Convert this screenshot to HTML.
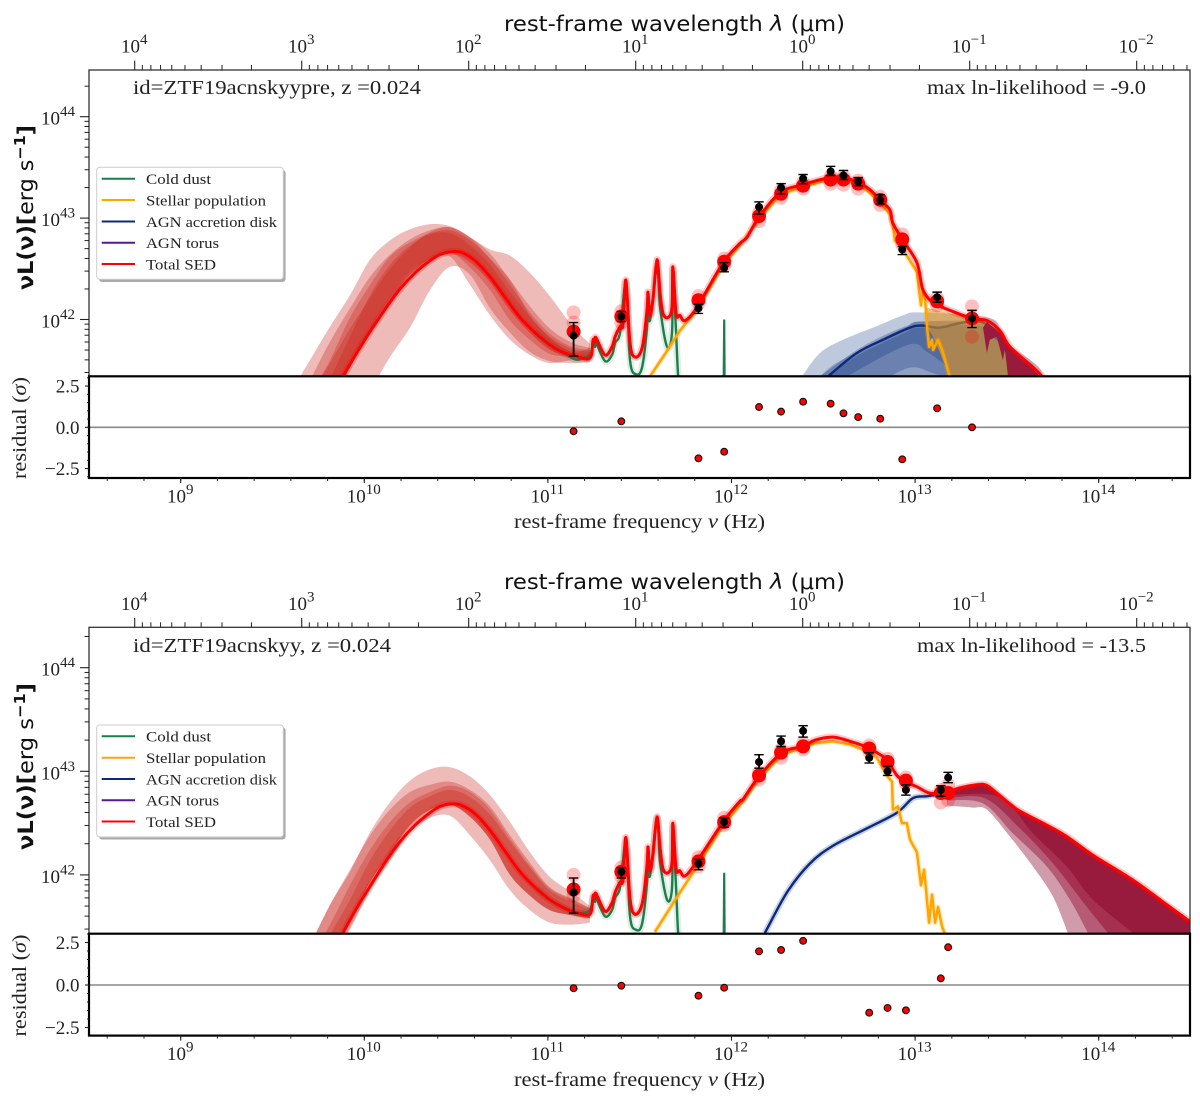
<!DOCTYPE html>
<html lang="en">
<head>
<meta charset="utf-8">
<title>SED fits for ZTF19acnskyypre and ZTF19acnskyy</title>
<style>
html,body{margin:0;padding:0;background:#fff;width:1200px;height:1110px;overflow:hidden}
svg{display:block}
.serif{font-family:"Liberation Serif",serif;fill:#222}
.sans{font-family:"DejaVu Sans",sans-serif;fill:#111}
</style>
</head>
<body>
<svg id="figure" xmlns="http://www.w3.org/2000/svg" width="1200" height="1110" viewBox="0 0 1200 1110">
  <rect x="0" y="0" width="1200" height="1110" fill="#fff"/>
  <g id="panel-1"></g>
  <g id="panel-2"></g>

  <text class="sans" x="674.5" y="31" font-size="21" text-anchor="middle" textLength="341" lengthAdjust="spacingAndGlyphs">rest-frame wavelength <tspan font-style="italic">λ</tspan> (μm)</text>
  <text class="serif" x="133" y="94" font-size="20" textLength="288" lengthAdjust="spacingAndGlyphs">id=ZTF19acnskyypre, z =0.024</text>
  <text class="serif" x="1146" y="94" font-size="20" text-anchor="end" textLength="219" lengthAdjust="spacingAndGlyphs">max ln-likelihood = -9.0</text>
  <text class="sans" transform="translate(33,207.5) rotate(-90)" font-size="21" text-anchor="middle" textLength="165" lengthAdjust="spacingAndGlyphs"><tspan font-weight="bold">νL(ν)[</tspan><tspan>erg s</tspan><tspan dy="-8" font-size="15" font-weight="bold">−1</tspan><tspan dy="8" font-weight="bold">]</tspan></text>
  <text class="serif" transform="translate(26,428) rotate(-90)" font-size="20" text-anchor="middle" textLength="102" lengthAdjust="spacingAndGlyphs">residual (<tspan font-style="italic">σ</tspan>)</text>
  <text class="serif" x="639.5" y="528" font-size="20" text-anchor="middle" textLength="251" lengthAdjust="spacingAndGlyphs">rest-frame frequency <tspan font-style="italic">ν</tspan> (Hz)</text>

  <g>
    <rect x="99" y="170" width="186.6" height="112" rx="3" fill="#aaa"/>
    <rect x="96.7" y="167.3" width="186.6" height="112" rx="3" fill="#fff" stroke="#ccc" stroke-width="1"/>
    <g><line x1="101.7" x2="135" y1="178.7" y2="178.7" stroke="#1a7f4b" stroke-width="2"/><text class="serif" x="146" y="184" font-size="15" textLength="65" lengthAdjust="spacingAndGlyphs">Cold dust</text></g>
    <g><line x1="101.7" x2="135" y1="200" y2="200" stroke="#ffa500" stroke-width="2"/><text class="serif" x="146" y="205.5" font-size="15" textLength="120" lengthAdjust="spacingAndGlyphs">Stellar population</text></g>
    <g><line x1="101.7" x2="135" y1="221.5" y2="221.5" stroke="#0b2a7c" stroke-width="2"/><text class="serif" x="146" y="227" font-size="15" textLength="131" lengthAdjust="spacingAndGlyphs">AGN accretion disk</text></g>
    <g><line x1="101.7" x2="135" y1="242.7" y2="242.7" stroke="#551a8b" stroke-width="2"/><text class="serif" x="146" y="248" font-size="15" textLength="73" lengthAdjust="spacingAndGlyphs">AGN torus</text></g>
    <g><line x1="101.7" x2="135" y1="264" y2="264" stroke="#ff0000" stroke-width="2"/><text class="serif" x="146" y="269.5" font-size="15" textLength="70" lengthAdjust="spacingAndGlyphs">Total SED</text></g>
  </g>

  <text class="sans" x="674.5" y="589" font-size="21" text-anchor="middle" textLength="341" lengthAdjust="spacingAndGlyphs">rest-frame wavelength <tspan font-style="italic">λ</tspan> (μm)</text>
  <text class="serif" x="133" y="652" font-size="20" textLength="258" lengthAdjust="spacingAndGlyphs">id=ZTF19acnskyy, z =0.024</text>
  <text class="serif" x="1146" y="652" font-size="20" text-anchor="end" textLength="229" lengthAdjust="spacingAndGlyphs">max ln-likelihood = -13.5</text>
  <text class="sans" transform="translate(33,766.5) rotate(-90)" font-size="21" text-anchor="middle" textLength="167" lengthAdjust="spacingAndGlyphs"><tspan font-weight="bold">νL(ν)[</tspan><tspan>erg s</tspan><tspan dy="-8" font-size="15" font-weight="bold">−1</tspan><tspan dy="8" font-weight="bold">]</tspan></text>
  <text class="serif" transform="translate(26,985.5) rotate(-90)" font-size="20" text-anchor="middle" textLength="102" lengthAdjust="spacingAndGlyphs">residual (<tspan font-style="italic">σ</tspan>)</text>
  <text class="serif" x="639.5" y="1086" font-size="20" text-anchor="middle" textLength="251" lengthAdjust="spacingAndGlyphs">rest-frame frequency <tspan font-style="italic">ν</tspan> (Hz)</text>

  <g>
    <rect x="99" y="727.5" width="186.6" height="112" rx="3" fill="#aaa"/>
    <rect x="96.7" y="725" width="186.6" height="112" rx="3" fill="#fff" stroke="#ccc" stroke-width="1"/>
    <g><line x1="101.7" x2="135" y1="736.3" y2="736.3" stroke="#1a7f4b" stroke-width="2"/><text class="serif" x="146" y="741.5" font-size="15" textLength="65" lengthAdjust="spacingAndGlyphs">Cold dust</text></g>
    <g><line x1="101.7" x2="135" y1="757.7" y2="757.7" stroke="#ffa500" stroke-width="2"/><text class="serif" x="146" y="763" font-size="15" textLength="120" lengthAdjust="spacingAndGlyphs">Stellar population</text></g>
    <g><line x1="101.7" x2="135" y1="779" y2="779" stroke="#0b2a7c" stroke-width="2"/><text class="serif" x="146" y="784.5" font-size="15" textLength="131" lengthAdjust="spacingAndGlyphs">AGN accretion disk</text></g>
    <g><line x1="101.7" x2="135" y1="800.3" y2="800.3" stroke="#551a8b" stroke-width="2"/><text class="serif" x="146" y="805.5" font-size="15" textLength="73" lengthAdjust="spacingAndGlyphs">AGN torus</text></g>
    <g><line x1="101.7" x2="135" y1="821.5" y2="821.5" stroke="#ff0000" stroke-width="2"/><text class="serif" x="146" y="827" font-size="15" textLength="70" lengthAdjust="spacingAndGlyphs">Total SED</text></g>
  </g>
</svg>

<script>
// ---- axis tick values ----
const freqTickExps = [9, 10, 11, 12, 13, 14];
const wavelengthTickExps = [4, 3, 2, 1, 0, -1, -2];
const lumTickExps = [42, 43, 44];
const residualTicks = [-2.5, 0, 2.5];
const residualTickLabels = ['−2.5', '0.0', '2.5'];

// ---- photometry (log10 Hz, log10 erg/s) : top panel ----
const obs1Nu = [11.14, 11.40, 11.82, 11.96, 12.15, 12.27, 12.39, 12.54, 12.61, 12.69, 12.81, 12.93, 13.12, 13.31];
const obs1L = [41.84, 42.03, 42.11, 42.51, 43.11, 43.30, 43.39, 43.46, 43.42, 43.36, 43.18, 42.69, 42.22, 42.01];
const obs1Hi = [41.97, 42.08, 42.15, 42.56, 43.16, 43.34, 43.43, 43.51, 43.47, 43.40, 43.23, 42.72, 42.27, 42.09];
const obs1Lo = [41.64, 41.98, 42.06, 42.47, 43.04, 43.24, 43.34, 43.42, 43.38, 43.32, 43.14, 42.64, 42.17, 41.92];
const model1L = [41.88, 42.03, 42.19, 42.57, 43.02, 43.24, 43.32, 43.38, 43.38, 43.34, 43.18, 42.79, 42.18, 42.01];
const model1Hi = [42.07, 42.08, 42.23, 42.60, 43.05, 43.27, 43.35, 43.41, 43.41, 43.37, 43.21, 42.84, 42.21, 42.13];
const model1Lo = [41.97, 41.97, 42.16, 42.53, 42.97, 43.20, 43.29, 43.34, 43.33, 43.29, 43.13, 42.74, 42.14, 41.83];
const resid1 = [-0.24, 0.36, -1.88, -1.48, 1.23, 0.95, 1.55, 1.43, 0.85, 0.62, 0.52, -1.94, 1.15, 0];

// ---- photometry : bottom panel ----
const obs2Nu = [11.14, 11.40, 11.82, 11.96, 12.15, 12.27, 12.39, 12.75, 12.85, 12.95, 13.14, 13.18];
const obs2L = [41.83, 42.03, 42.11, 42.51, 43.09, 43.29, 43.39, 43.13, 43.00, 42.82, 42.82, 42.94];
const obs2Hi = [41.97, 42.07, 42.15, 42.55, 43.16, 43.34, 43.44, 43.18, 43.05, 42.87, 42.86, 42.99];
const obs2Lo = [41.63, 41.97, 42.05, 42.46, 43.03, 43.24, 43.33, 43.08, 42.96, 42.77, 42.76, 42.89];
const model2L = [41.86, 42.03, 42.13, 42.51, 42.96, 43.18, 43.24, 43.22, 43.09, 42.91, 42.79, 42.79];
const model2Hi = [42.00, 42.07, 42.17, 42.55, 42.99, 43.21, 43.27, 43.25, 43.12, 42.94, 42.82, 42.87];
const model2Lo = [41.80, 41.98, 42.08, 42.48, 42.92, 43.13, 43.21, 43.19, 43.06, 42.88, 42.70, 42.72];
const resid2 = [-0.19, -0.04, -0.63, -0.16, 1.98, 2.06, 2.6, -1.63, -1.35, -1.49, 0.39, 2.22];

// ---- total SED ----
const total1Nu = [9.884,9.949,10.031,10.113,10.194,10.276,10.358,10.412,10.478,10.532,10.603,10.685,10.766,10.848,10.93,11.011,11.077,11.148,11.229,11.246,11.256,11.262,11.311,11.349,11.366,11.393,11.409,11.425,11.447,11.474,11.513,11.54,11.545,11.556,11.572,11.594,11.611,11.627,11.654,11.676,11.681,11.698,11.719,11.747,11.812,11.954,12.046,12.084,12.15,12.264,12.389,12.536,12.607,12.694,12.754,12.808,12.863,12.879,12.934,13.01,13.043,13.098,13.125,13.19,13.31,13.391,13.462,13.517,13.642,13.697];
const total1L = [41.44,41.64,41.88,42.10,42.30,42.46,42.58,42.64,42.67,42.66,42.58,42.42,42.22,42.02,41.87,41.75,41.68,41.64,41.62,41.80,41.78,41.82,41.65,41.73,41.83,41.93,41.95,42.39,41.77,41.63,41.72,42.09,42.27,42.04,42.19,42.59,42.26,42.06,42.02,42.12,42.52,42.06,42.04,41.99,42.12,42.56,42.75,42.81,43.01,43.25,43.33,43.40,43.40,43.35,43.28,43.18,43.08,42.95,42.78,42.56,42.29,42.16,42.14,42.09,42.01,41.99,41.89,41.73,41.53,41.43];
const total2Nu = [9.884,9.949,10.031,10.113,10.194,10.276,10.358,10.412,10.478,10.532,10.603,10.685,10.766,10.848,10.93,11.011,11.077,11.148,11.229,11.246,11.256,11.262,11.311,11.349,11.366,11.393,11.409,11.425,11.447,11.474,11.513,11.54,11.545,11.556,11.572,11.594,11.611,11.627,11.654,11.676,11.681,11.698,11.719,11.747,11.812,11.954,12.046,12.063,12.15,12.275,12.389,12.454,12.552,12.645,12.743,12.792,12.846,12.901,12.945,13.01,13.081,13.174,13.244,13.337,13.38,13.424,13.533,13.598,13.718,13.827,13.969,14.187,14.372,14.497];
const total2L = [41.44,41.65,41.89,42.12,42.32,42.48,42.60,42.66,42.685,42.67,42.59,42.43,42.23,42.03,41.88,41.76,41.69,41.64,41.62,41.80,41.78,41.82,41.65,41.73,41.83,41.93,41.95,42.36,41.77,41.62,41.72,42.09,42.27,42.04,42.19,42.56,42.26,42.06,42.02,42.12,42.50,42.06,42.04,41.99,42.13,42.51,42.71,42.73,42.95,43.18,43.24,43.30,43.33,43.29,43.23,43.18,43.11,42.96,42.90,42.85,42.79,42.80,42.84,42.87,42.87,42.82,42.66,42.59,42.48,42.37,42.19,41.95,41.71,41.55];

// ---- cold dust ----
const dustLineNu = [10.93,11.011,11.077,11.142,11.18,11.229,11.246,11.256,11.262,11.311,11.349,11.366,11.393,11.425,11.447,11.48,11.513,11.54,11.545,11.556,11.594,11.611,11.649,11.676,11.681,11.698,11.709,11.72];
const dust1L = [41.87,41.75,41.68,41.61,41.61,41.65,41.77,41.73,41.77,41.59,41.65,41.77,41.87,42.36,41.60,41.46,41.53,41.93,42.19,41.99,42.52,42.12,41.73,41.87,42.49,41.87,41.45,41.30];
const dust2L = [41.88,41.76,41.69,41.63,41.63,41.66,41.78,41.74,41.78,41.60,41.66,41.78,41.88,42.31,41.60,41.47,41.53,41.93,42.19,41.99,42.55,42.12,41.76,41.87,42.46,41.87,41.45,41.30];
const dustSpikeNu = [11.957, 11.96, 11.963];
const dustSpike1L = [41.3, 42.0, 41.3];
const dustSpike2L = [41.3, 42.02, 41.3];

// ---- cold dust uncertainty bands on a shared frequency grid ----
const bandGridNu = [9.595,9.704,9.813,9.922,10.031,10.14,10.249,10.358,10.467,10.576,10.685,10.794,10.902,11.011,11.131,11.229];
const band1AUp = [41.27,41.60,41.93,42.24,42.59,42.78,42.89,42.94,42.92,42.81,42.60,42.39,42.04,41.82,41.68,41.72];
const band1ALo = [40.40,40.80,41.15,41.52,41.90,42.19,42.44,42.60,42.62,42.34,42.04,41.80,41.65,41.57,41.60,41.59];
const band1BUp = [40.93,41.25,41.57,41.91,42.21,42.50,42.71,42.86,42.91,42.81,42.69,42.63,42.46,42.23,41.94,41.76];
const band1BLo = [39.90,40.30,40.70,41.05,41.30,41.63,41.92,42.29,42.52,42.44,42.11,41.87,41.68,41.59,41.57,41.58];
const band1CUp = [41.02,41.40,41.78,42.11,42.42,42.64,42.79,42.88,42.91,42.81,42.65,42.39,42.13,41.91,41.77,41.72];
const band1CLo = [40.67,40.97,41.25,41.55,41.88,42.18,42.44,42.57,42.66,42.51,42.29,41.99,41.80,41.66,41.63,41.60];
const band1DUp = [40.90,41.25,41.60,42.02,42.34,42.62,42.76,42.85,42.88,42.78,42.60,42.34,42.07,41.86,41.73,41.70];
const band1DLo = [40.67,40.97,41.25,41.55,41.90,42.22,42.47,42.60,42.66,42.56,42.37,42.09,41.87,41.70,41.63,41.60];
const band1EUp = [40.78,41.10,41.42,41.83,42.24,42.54,42.73,42.84,42.85,42.73,42.54,42.27,42.03,41.83,41.71,41.68];
const band1ELo = [40.67,40.97,41.25,41.55,41.88,42.19,42.44,42.58,42.66,42.61,42.41,42.14,41.90,41.73,41.63,41.60];

const band2AUp = [40.93,41.32,41.71,42.03,42.41,42.70,42.91,43.02,43.04,42.95,42.77,42.51,42.22,41.98,41.83,41.70];
const band2ALo = [40.60,40.89,41.13,41.47,41.85,42.14,42.41,42.55,42.57,42.38,42.14,41.85,41.66,41.54,41.52,41.54];
const band2BUp = [40.93,41.32,41.71,42.05,42.38,42.63,42.80,42.87,42.90,42.82,42.66,42.38,42.12,41.88,41.77,41.68];
const band2BLo = [40.65,40.94,41.23,41.56,41.93,42.21,42.48,42.63,42.68,42.56,42.34,42.00,41.80,41.66,41.61,41.58];
const band2CUp = [40.80,41.18,41.52,41.90,42.24,42.51,42.70,42.80,42.86,42.80,42.63,42.35,42.09,41.87,41.76,41.68];
const band2CLo = [40.65,40.94,41.23,41.56,41.93,42.21,42.48,42.63,42.68,42.56,42.34,42.00,41.80,41.66,41.61,41.58];
const band2DUp = [40.70,41.08,41.42,41.76,42.14,42.43,42.65,42.76,42.82,42.75,42.58,42.32,42.07,41.85,41.74,41.66];
const band2DLo = [40.65,40.94,41.23,41.56,41.93,42.21,42.48,42.63,42.68,42.56,42.34,42.00,41.80,41.66,41.61,41.58];

// ---- stellar population ----
const stellar1Nu = [11.556,11.638,11.719,11.812,11.954,12.063,12.15,12.264,12.389,12.536,12.607,12.694,12.754,12.808,12.863,12.879,12.89,12.934,13.01,13.021,13.032,13.043,13.054,13.065,13.076,13.092,13.098,13.125,13.147,13.174,13.19];
const stellar1L = [41.44,41.66,41.89,42.10,42.54,42.77,42.99,43.23,43.31,43.38,43.38,43.33,43.25,43.15,43.04,42.92,42.78,42.69,42.47,42.29,42.14,42.29,42.22,41.93,41.73,41.80,41.70,41.80,41.70,41.53,41.42];
const stellar2Nu = [11.583,11.719,11.812,11.954,12.063,12.15,12.275,12.389,12.454,12.552,12.645,12.743,12.792,12.846,12.874,12.879,12.907,12.928,12.955,12.972,13.01,13.032,13.049,13.076,13.092,13.109,13.125,13.147,13.163];
const stellar2L = [41.45,41.83,42.08,42.48,42.71,42.93,43.16,43.23,43.27,43.29,43.26,43.19,43.13,42.96,42.90,42.63,42.66,42.50,42.50,42.34,42.22,41.90,42.05,41.54,41.81,41.54,41.69,41.50,41.43];

// ---- AGN accretion disk ----
const agn1Nu = [12.526,12.683,12.825,12.972,13.043,13.135,13.26,13.37,13.479,13.571,13.67];
const agn1L = [41.44,41.67,41.80,41.92,41.94,41.92,41.97,41.97,41.80,41.62,41.44];
const agn2Nu = [12.182,12.302,12.427,12.552,12.738,12.901,12.988,13.065,13.174,13.244,13.337,13.38,13.424,13.533];
const agn2L = [41.44,41.83,42.11,42.28,42.45,42.60,42.74,42.76,42.79,42.83,42.86,42.86,42.81,42.65];

// ---- top panel AGN / stellar / hot-dust envelopes (outlines) ----
const agnBandLightNu = [12.384,12.482,12.607,12.77,12.934,13.027,13.391,13.462,13.517,13.68,13.18,12.536];
const agnBandLightL = [41.44,41.67,41.80,41.92,42.04,42.07,42.02,41.92,41.75,41.44,41.3,41.3];
const agnBandMidNu = [12.482,12.553,12.683,12.825,12.956,13.027,13.391,13.462,13.625,13.18,12.6];
const agnBandMidL = [41.44,41.55,41.68,41.82,41.93,41.98,41.98,41.85,41.44,41.3,41.3];
const agnBandThirdNu = [12.52,12.683,12.825,12.956,13.027,13.391,13.517,13.598,13.18,12.994,12.863];
const agnBandThirdL = [41.44,41.64,41.77,41.88,41.92,41.92,41.65,41.44,41.44,41.53,41.44];
const agnBandDarkNu = [12.482,12.683,12.825,12.972,13.043,13.391,13.517,13.625,13.217,13.163,13.065,12.96,12.629];
const agnBandDarkL = [41.44,41.70,41.84,41.95,41.98,41.95,41.75,41.44,41.44,41.55,41.68,41.75,41.44];
const stellarBandNu = [13.054,13.19,13.31,13.391,13.424,13.5,13.506,13.19,13.098,13.065];
const stellarBandL = [42.12,42.06,42.01,41.97,41.83,41.70,41.44,41.44,41.83,41.93];
const hotBandNu = [13.391,13.462,13.517,13.642,13.67,13.506,13.489,13.478,13.445,13.407,13.391,13.37];
const hotBandL = [41.975,41.87,41.72,41.52,41.44,41.44,41.70,41.60,41.83,41.80,41.67,41.92];

// ---- bottom panel high-frequency envelope lower edges ----
const envStartNu = 13.174;
const envLightNu = [13.174,13.244,13.315,13.391,13.517,13.642,13.751,13.832];
const envLightL = [42.67,42.66,42.65,42.63,42.37,42.08,41.79,41.44];
const envMidNu = [13.174,13.37,13.533,13.718,13.843,13.941];
const envMidL = [42.72,42.69,42.40,42.08,41.76,41.44];
const envThirdNu = [13.174,13.38,13.57,13.751,13.936,14.05];
const envThirdL = [42.74,42.74,42.45,42.11,41.69,41.44];
const envDarkNu = [13.174,13.462,13.642,13.827,13.969,14.187];
const envDarkL = [42.77,42.75,42.40,42.08,41.76,41.44];

// ---- x axis functions ----
const xScale = nu => 364.3 + (nu - 10) * 183.6;
const wlScale = e => 134.7 + (4 - e) * 167;
const X_LEFT = 89, X_RIGHT = 1190;

const NS = 'http://www.w3.org/2000/svg';
function mk(parent, tag, attrs, name, text) {
  const el = document.createElementNS(NS, tag);
  for (const k in attrs) el.setAttribute(k, attrs[k]);
  
  
  if (text !== undefined) el.textContent = text;
  parent.appendChild(el);
  return el;
}
function powerLabel(parent, x, y, anchor, exp, name) {
  const t = mk(parent, 'text', {x: x, y: y, 'text-anchor': anchor, 'font-size': 19, 'class': 'serif'}, name, '10');
  const s = document.createElementNS(NS, 'tspan');
  s.setAttribute('dy', '-8.5');
  s.setAttribute('font-size', '15');
  s.textContent = String(exp).replace('-', '−');
  t.appendChild(s);
}
// Catmull-Rom curve through the given screen points
function smoothPath(pts) {
  let d = 'M' + pts[0][0].toFixed(1) + ' ' + pts[0][1].toFixed(1);
  for (let i = 0; i < pts.length - 1; i++) {
    const p0 = pts[Math.max(i - 1, 0)], p1 = pts[i], p2 = pts[i + 1], p3 = pts[Math.min(i + 2, pts.length - 1)];
    const c1x = p1[0] + (p2[0] - p0[0]) / 6, c1y = p1[1] + (p2[1] - p0[1]) / 6;
    const c2x = p2[0] - (p3[0] - p1[0]) / 6, c2y = p2[1] - (p3[1] - p1[1]) / 6;
    d += 'C' + c1x.toFixed(1) + ' ' + c1y.toFixed(1) + ' ' + c2x.toFixed(1) + ' ' + c2y.toFixed(1) + ' ' + p2[0].toFixed(1) + ' ' + p2[1].toFixed(1);
  }
  return d;
}

function drawPanel(root, clipId, g, d) {
  const yL = L => g.y44 + (44 - L) * g.dex;
  const yR = r => g.res0 - r * g.resUnit;
  const toPts = (nu, L) => nu.map((n, i) => [xScale(n), yL(L[i])]);
  const lineD = (nu, L) => toPts(nu, L).map((p, i) => (i ? 'L' : 'M') + p[0].toFixed(1) + ' ' + p[1].toFixed(1)).join('');
  const curveD = (nu, L) => smoothPath(toPts(nu, L));
  const polyD = (nu, L) => lineD(nu, L) + 'Z';
  const curvePolyD = (nu, L) => curveD(nu, L) + 'Z';
  const bandD = (nu, up, lo) => curveD(nu, up) + curveD(nu.slice().reverse(), lo.slice().reverse()).replace('M', 'L') + 'Z';

  const defs = mk(root, 'defs', {}, 'panel-clip-defs');
  const cp = mk(defs, 'clipPath', {id: clipId}, 'panel-clip');
  mk(cp, 'rect', {x: X_LEFT, y: g.top, width: X_RIGHT - X_LEFT, height: g.bottom - g.top}, 'panel-clip-rect');

  const plot = mk(root, 'g', {'clip-path': 'url(#' + clipId + ')'}, 'sed-plot-area');

  // cold dust bands
  d.dustBands.forEach(b => {
    mk(plot, 'path', {d: bandD(bandGridNu, b[0], b[1]), fill: 'rgb(200,30,20)', 'fill-opacity': 0.3}, 'dust-uncertainty-band');
  });
  // envelopes under the lines
  if (d.agnPolys) d.agnPolys.forEach(b => {
    mk(plot, 'path', {d: curvePolyD(b[0], b[1]), fill: 'rgb(0,40,120)', 'fill-opacity': 0.25}, 'agn-disk-band');
  });
  if (d.agnHalo) mk(plot, 'path', {d: curveD(d.agnNu, d.agnL), fill: 'none', stroke: 'rgb(0,40,120)', 'stroke-opacity': 0.22, 'stroke-width': 6}, 'agn-disk-halo');
  mk(plot, 'path', {d: curveD(d.agnNu, d.agnL), fill: 'none', stroke: '#0b2a7c', 'stroke-width': 2.4, 'stroke-linejoin': 'round'}, 'agn-disk-line');
  if (d.stellarPoly) mk(plot, 'path', {d: polyD(d.stellarPoly[0], d.stellarPoly[1]), fill: 'rgb(230,150,30)', 'fill-opacity': 0.6}, 'stellar-band');
  if (d.hotPoly) mk(plot, 'path', {d: polyD(d.hotPoly[0], d.hotPoly[1]), fill: '#981a3c'}, 'total-sed-dark-band');
  if (d.envelopes) {
    const iStart = d.totalNu.findIndex(n => n >= envStartNu);
    const topNu = d.totalNu.slice(iStart), topL = d.totalL.slice(iStart);
    d.envelopes.forEach(e => {
      const top = curveD(topNu, topL);
      const corner = 'L' + xScale(14.6).toFixed(1) + ' ' + yL(41.3).toFixed(1);
      const lower = curveD(e[0].slice().reverse(), e[1].slice().reverse()).replace('M', 'L');
      mk(plot, 'path', {d: top + corner + lower + 'Z', fill: e[2]}, 'total-sed-envelope');
    });
  }
  // cold dust lines
  mk(plot, 'path', {d: curveD(d.dustNu, d.dustL), fill: 'none', stroke: '#1a7f4b', 'stroke-opacity': 0.13, 'stroke-width': 7, 'stroke-linejoin': 'round'}, 'cold-dust-halo');
  mk(plot, 'path', {d: curveD(d.dustNu, d.dustL), fill: 'none', stroke: '#1a7f4b', 'stroke-width': 2.4, 'stroke-linejoin': 'round'}, 'cold-dust-line');
  mk(plot, 'path', {d: lineD(dustSpikeNu, d.spikeL), fill: 'none', stroke: '#1a7f4b', 'stroke-width': 2.2}, 'cold-dust-spike');
  // stellar
  mk(plot, 'path', {d: lineD(d.stellarNu, d.stellarL), fill: 'none', stroke: '#ffa500', 'stroke-opacity': 0.25, 'stroke-width': 5, 'stroke-linejoin': 'round'}, 'stellar-halo');
  mk(plot, 'path', {d: lineD(d.stellarNu, d.stellarL), fill: 'none', stroke: '#ffa500', 'stroke-width': 2.5, 'stroke-linejoin': 'round'}, 'stellar-line');
  // total
  mk(plot, 'path', {d: curveD(d.totalNu, d.totalL), fill: 'none', stroke: '#ff0000', 'stroke-opacity': 0.22, 'stroke-width': 7, 'stroke-linejoin': 'round'}, 'total-sed-halo');
  mk(plot, 'path', {d: curveD(d.totalNu, d.totalL), fill: 'none', stroke: '#ff0000', 'stroke-width': 3, 'stroke-linejoin': 'round'}, 'total-sed-line');

  // model photometry markers
  d.obsNu.forEach((n, i) => {
    mk(plot, 'circle', {cx: xScale(n), cy: yL(d.modelHi[i]), r: 7, fill: '#ff0000', 'fill-opacity': 0.25}, 'model-point-upper');
    mk(plot, 'circle', {cx: xScale(n), cy: yL(d.modelLo[i]), r: 7, fill: '#ff0000', 'fill-opacity': 0.25}, 'model-point-lower');
  });
  d.obsNu.forEach((n, i) => {
    mk(plot, 'circle', {cx: xScale(n), cy: yL(d.modelL[i]), r: 7, fill: '#ff0000'}, 'model-point');
  });
  // observed photometry
  d.obsNu.forEach((n, i) => {
    const x = xScale(n);
    mk(plot, 'line', {x1: x, x2: x, y1: yL(d.obsHi[i]), y2: yL(d.obsLo[i]), stroke: '#000', 'stroke-width': 1.8}, 'error-bar');
    mk(plot, 'line', {x1: x - 4.7, x2: x + 4.7, y1: yL(d.obsHi[i]), y2: yL(d.obsHi[i]), stroke: '#000', 'stroke-width': 1.4}, 'error-cap-upper');
    mk(plot, 'line', {x1: x - 4.7, x2: x + 4.7, y1: yL(d.obsLo[i]), y2: yL(d.obsLo[i]), stroke: '#000', 'stroke-width': 1.4}, 'error-cap-lower');
    mk(plot, 'circle', {cx: x, cy: yL(d.obsL[i]), r: 4, fill: '#000'}, 'observed-point');
  });

  // main frame
  mk(root, 'rect', {x: X_LEFT, y: g.top, width: X_RIGHT - X_LEFT, height: g.bottom - g.top, fill: 'none', stroke: '#333', 'stroke-width': 1.3}, 'main-axes-frame');

  // top wavelength ticks
  const axis = mk(root, 'g', {}, 'axes-ticks');
  for (let e = -3; e <= 4; e++) {
    for (let m = 2; m <= 9; m++) {
      const x = wlScale(e + Math.log10(m));
      if (x < X_LEFT || x > X_RIGHT) continue;
      mk(axis, 'line', {x1: x, x2: x, y1: g.top, y2: g.top - 5, stroke: '#222', 'stroke-width': 1}, 'wavelength-minor-tick');
    }
  }
  wavelengthTickExps.forEach(e => {
    const x = wlScale(e);
    mk(axis, 'line', {x1: x, x2: x, y1: g.top, y2: g.top - 9.3, stroke: '#222', 'stroke-width': 1.1}, 'wavelength-major-tick');
    powerLabel(axis, x - 0.5, g.top - 17.5, 'middle', e, 'wavelength-tick-label');
  });
  // luminosity ticks
  for (let e = 41; e <= 44; e++) {
    for (let m = 2; m <= 9; m++) {
      const L = e + Math.log10(m);
      const y = yL(L);
      if (y < g.top || y > g.bottom) continue;
      mk(axis, 'line', {x1: X_LEFT, x2: X_LEFT - 4.5, y1: y, y2: y, stroke: '#222', 'stroke-width': 1}, 'luminosity-minor-tick');
    }
  }
  lumTickExps.forEach(e => {
    const y = yL(e);
    mk(axis, 'line', {x1: X_LEFT, x2: X_LEFT - 9, y1: y, y2: y, stroke: '#222', 'stroke-width': 1.1}, 'luminosity-major-tick');
    powerLabel(axis, 75, y + 8, 'end', e, 'luminosity-tick-label');
  });

  // residual panel
  const res = mk(root, 'g', {}, 'residual-panel');
  mk(res, 'line', {x1: X_LEFT, x2: X_RIGHT, y1: yR(0), y2: yR(0), stroke: '#888', 'stroke-width': 1.6}, 'residual-zero-line');
  d.obsNu.forEach((n, i) => {
    mk(res, 'circle', {cx: xScale(n), cy: yR(d.resid[i]), r: 3.4, fill: '#ff0000', stroke: '#111', 'stroke-width': 1.1}, 'residual-point');
  });
  mk(res, 'rect', {x: X_LEFT, y: g.bottom, width: X_RIGHT - X_LEFT, height: g.resBottom - g.bottom, fill: 'none', stroke: '#000', 'stroke-width': 2.2}, 'residual-axes-frame');
  for (let r = -3; r <= 3.001; r += 0.5) {
    const y = yR(r);
    if (y < g.bottom || y > g.resBottom) continue;
    mk(res, 'line', {x1: X_LEFT, x2: X_LEFT - 2, y1: y, y2: y, stroke: '#222', 'stroke-width': 1}, 'residual-minor-tick');
  }
  residualTicks.forEach((r, i) => {
    const y = yR(r);
    mk(res, 'line', {x1: X_LEFT, x2: X_LEFT - 4, y1: y, y2: y, stroke: '#222', 'stroke-width': 1.1}, 'residual-major-tick');
    mk(res, 'text', {x: 79.5, y: y + 6.5, 'text-anchor': 'end', 'font-size': 19, 'class': 'serif'}, 'residual-tick-label', residualTickLabels[i]);
  });
  for (let k = 0; k <= 40; k++) {
    const nu = 8.6 + k * 0.2;
    const x = xScale(nu);
    if (x < X_LEFT || x > X_RIGHT) continue;
    mk(res, 'line', {x1: x, x2: x, y1: g.resBottom, y2: g.resBottom + 3, stroke: '#222', 'stroke-width': 1}, 'frequency-minor-tick');
  }
  freqTickExps.forEach(e => {
    const x = xScale(e);
    mk(res, 'line', {x1: x, x2: x, y1: g.resBottom, y2: g.resBottom + 5, stroke: '#222', 'stroke-width': 1.1}, 'frequency-major-tick');
    powerLabel(res, x - 0.5, g.resBottom + 24.5, 'middle', e, 'frequency-tick-label');
  });
}

drawPanel(document.getElementById('panel-1'), 'clip-panel-1',
  {top: 70, bottom: 376.3, y44: 116.7, dex: 101.4, res0: 427.3, resUnit: 16.5, resBottom: 478},
  {
    totalNu: total1Nu, totalL: total1L,
    dustNu: dustLineNu, dustL: dust1L, spikeL: dustSpike1L,
    dustBands: [[band1BUp, band1BLo], [band1AUp, band1ALo], [band1CUp, band1CLo], [band1DUp, band1DLo], [band1EUp, band1ELo]],
    stellarNu: stellar1Nu, stellarL: stellar1L,
    agnNu: agn1Nu, agnL: agn1L,
    agnPolys: [[agnBandLightNu, agnBandLightL], [agnBandMidNu, agnBandMidL], [agnBandThirdNu, agnBandThirdL], [agnBandDarkNu, agnBandDarkL]],
    stellarPoly: [stellarBandNu, stellarBandL],
    hotPoly: [hotBandNu, hotBandL],
    obsNu: obs1Nu, obsL: obs1L, obsHi: obs1Hi, obsLo: obs1Lo,
    modelL: model1L, modelHi: model1Hi, modelLo: model1Lo, resid: resid1
  });

drawPanel(document.getElementById('panel-2'), 'clip-panel-2',
  {top: 627.3, bottom: 933.7, y44: 667.7, dex: 103.6, res0: 985, resUnit: 17, resBottom: 1035.6},
  {
    totalNu: total2Nu, totalL: total2L,
    dustNu: dustLineNu, dustL: dust2L, spikeL: dustSpike2L,
    dustBands: [[band2AUp, band2ALo], [band2BUp, band2BLo], [band2CUp, band2CLo], [band2DUp, band2DLo]],
    stellarNu: stellar2Nu, stellarL: stellar2L,
    agnNu: agn2Nu, agnL: agn2L, agnHalo: true,
    envelopes: [[envLightNu, envLightL, '#d09cab'], [envMidNu, envMidL, '#b55b75'], [envThirdNu, envThirdL, '#a5304f'], [envDarkNu, envDarkL, '#981a3c']],
    obsNu: obs2Nu, obsL: obs2L, obsHi: obs2Hi, obsLo: obs2Lo,
    modelL: model2L, modelHi: model2Hi, modelLo: model2Lo, resid: resid2
  });
</script>
</body>
</html>
